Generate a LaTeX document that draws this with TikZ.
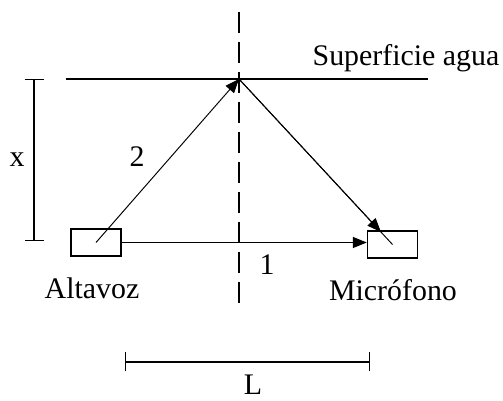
\documentclass[tikz,border=0pt]{standalone}
\usepackage{fontspec}
\setmainfont{Liberation Serif}
\usetikzlibrary{positioning, arrows.meta, calc}

\begin{document}
\begin{tikzpicture}[x=0.2mm, y=-0.2mm, line width=0.8pt, every node/.style={font=\fontsize{17}{20}\selectfont}]
  \tikzset{
    caja/.style={draw, minimum width=10mm, minimum height=5.4mm, inner sep=0pt},
    rayo/.style={line width=0.55pt},
    punta/.style={-{Triangle[length=2.8mm, width=2.2mm]}},
    eje/.style={dash pattern=on 4.2mm off 1.8mm},
    cota/.style={{Bar[width=3.8mm]}-{Bar[width=3.8mm]}}
  }
  \useasboundingbox (0,0) rectangle (503,401);

  \node[caja] (alt) at (96,242.5) {};
  \node[caja] (mic) at (392.5,244.5) {};
  \coordinate (apex) at (239,79);
  \coordinate (ejeA) at (239,12);
  \coordinate (ejeB) at (239,312);
  \coordinate (supA) at (66,79);
  \coordinate (supB) at (428,79);

  \draw[eje] (ejeA) -- (ejeB);
  \draw (supA) -- (supB);
  \node (sup) at (406,58) {Superficie agua};

  % rayo directo
  \draw[punta] (alt.east) -- (alt.east -| mic.west);
  \node (etiq1) at (267,265) {1};

  % rayo reflejado
  \draw[rayo, punta] (alt.center) -- (apex);
  \draw[rayo] (apex) -- (mic.center);
  \draw[rayo, punta] (apex) -- ($(apex)!0.925!(mic.center)$);
  \node (etiq2) at (137,157) {2};

  \node (altlab) at (92,288) {Altavoz};
  \node (miclab) at (393,290) {Micrófono};

  % cotas
  \draw[cota] (34,79) -- (34,241);
  \node (etiqx) at (17,160) {x};
  \draw[cota] (125,362) -- (370,362);
  \node (etiqL) at (253,385) {L};
\end{tikzpicture}
\end{document}
